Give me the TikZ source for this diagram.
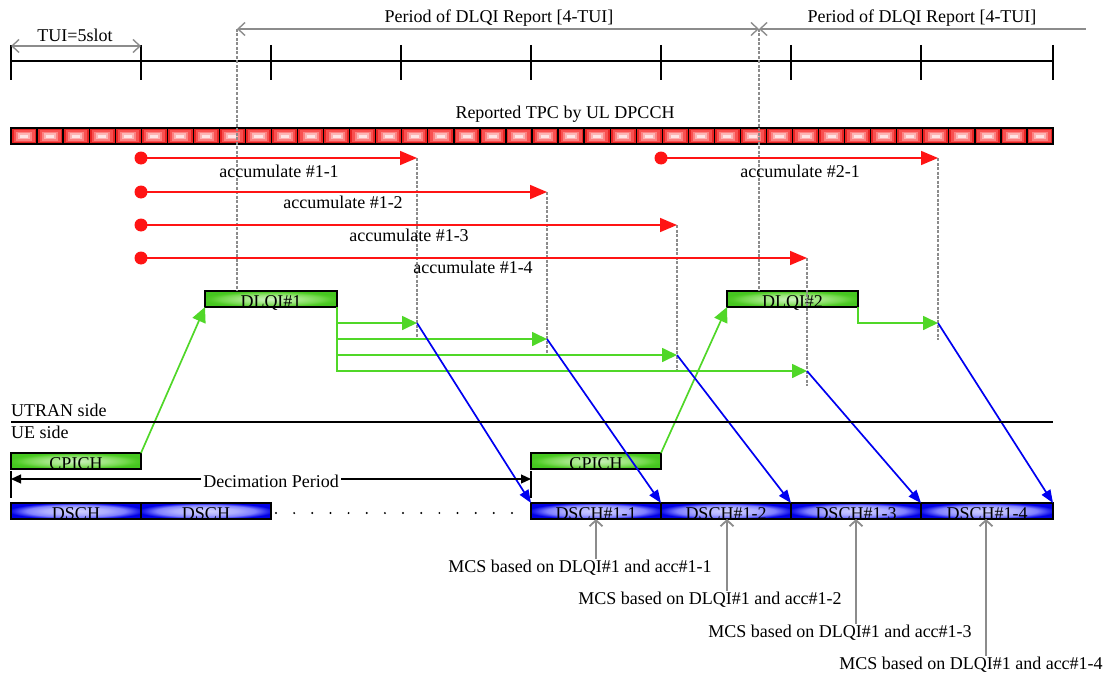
\documentclass[tikz,border=0pt]{standalone}
\usepackage{fontspec}
\setmainfont{Liberation Serif}
\usetikzlibrary{arrows.meta}
\definecolor{linegreen}{RGB}{80,215,40}
\definecolor{lineblue}{RGB}{0,0,240}
\definecolor{linered}{RGB}{255,20,20}
\definecolor{grayl}{RGB}{140,140,140}
\definecolor{tpcA}{RGB}{232,35,35}
\definecolor{tpcB}{RGB}{248,80,80}
\definecolor{tpcC}{RGB}{252,130,130}
\definecolor{tpcD}{RGB}{253,180,180}
\definecolor{tpcE}{RGB}{255,228,228}
\pgfdeclareradialshading{greenglow}{\pgfpoint{0bp}{0bp}}{rgb(0bp)=(0.8,0.95,0.75);rgb(12bp)=(0.62,0.9,0.5);rgb(19bp)=(0.45,0.85,0.3);rgb(23bp)=(0.32,0.8,0.16);rgb(26bp)=(0.27,0.78,0.12);rgb(50bp)=(0.27,0.78,0.12)}
\pgfdeclareradialshading{blueglow}{\pgfpoint{0bp}{0bp}}{rgb(0bp)=(0.82,0.82,1);rgb(12bp)=(0.68,0.68,1);rgb(19bp)=(0.5,0.5,1);rgb(23bp)=(0.2,0.2,0.95);rgb(26bp)=(0,0,0.9);rgb(50bp)=(0,0,0.9)}
\newcommand\myfs{\fontsize{18}{20}\selectfont}
\tikzset{
  sbox/.style={draw=black, line width=1.2pt, minimum height=16pt, inner sep=0pt, outer sep=0pt,
    anchor=north west, font=\myfs, text height=16pt, text depth=0pt},
  gbox/.style={sbox, shade, shading=greenglow},
  bbox/.style={sbox, shade, shading=blueglow},
  txt/.style={font=\myfs, inner sep=1pt, text height=12pt, text depth=4pt},
  gdash/.style={draw=grayl, line width=1.2pt, dash pattern=on 3pt off 1.5pt},
  grayline/.style={draw=grayl, line width=1.4pt},
  barb/.tip={Straight Barb[length=7pt,width=13pt]},
  rarrow/.style={draw=linered, line width=1.7pt, -{Triangle[length=17pt,width=14pt]}},
  garrow/.style={draw=linegreen, line width=1.7pt, -{Triangle[length=15pt,width=14pt]}},
  barrow/.style={draw=lineblue, line width=1.7pt, -{Triangle[length=13pt,width=10pt]}},
  mcsarrow/.style={draw=grayl, line width=1.8pt, -{Straight Barb[length=6pt,width=13pt]}},
  decarrow/.style={draw=black, line width=1.2pt, {Triangle[length=10pt,width=9pt]}-{Triangle[length=10pt,width=9pt]}},
}
\begin{document}
\begin{tikzpicture}[x=1pt,y=-1pt]
\useasboundingbox (0,0) rectangle (1109,677);

% ---- timeline
\draw[line width=1.2pt] (11,61) -- (1053,61);
\foreach \t in {11,141,271,401,531,661,791,921,1053}
  \draw[line width=1.6pt] (\t,45) -- (\t,80);

% ---- TPC bar
\foreach \i in {0,...,39}{
  \pgfmathsetmacro\xa{11+26.05*\i}
  \fill[tpcA] (\xa,128) rectangle ++(26.05,16);
  \fill[tpcB] (\xa+2.5,130) rectangle ++(21.05,12);
  \fill[tpcC] (\xa+5,131.5) rectangle ++(16.05,9);
  \fill[tpcD] (\xa+7,133) rectangle ++(12.05,6);
  \fill[tpcE] (\xa+9,134.5) rectangle ++(8.05,3);
  \draw[line width=1.3pt] (\xa,128) -- (\xa,144);
}
\draw[line width=1.3pt] (11,128) rectangle (1053,144);

% ---- boxes
\node[gbox, minimum width=132pt] (d1) at (205,291) {DLQI\#1};
\node[gbox, minimum width=131pt] (d2) at (727,291) {DLQI\#2};
\node[gbox, minimum width=130pt] (cp1) at (11,453) {CPICH};
\node[gbox, minimum width=130pt] (cp2) at (531,453) {CPICH};
\node[bbox, minimum width=130pt] (ds1) at (11,503) {DSCH};
\node[bbox, minimum width=130pt] (ds2) at (141,503) {DSCH};
\node[bbox, minimum width=130pt] (ds11) at (531,503) {DSCH\#1-1};
\node[bbox, minimum width=130pt] (ds12) at (661,503) {DSCH\#1-2};
\node[bbox, minimum width=130pt] (ds13) at (791,503) {DSCH\#1-3};
\node[bbox, minimum width=132pt] (ds14) at (921,503) {DSCH\#1-4};

% ---- coordinates
\coordinate (p0) at (237,29);
\coordinate (p1) at (759,29);
\coordinate (p2) at (1086,29);
\coordinate (t0) at (11,46);
\coordinate (t1) at (141,46);
\coordinate (a11s) at (141,158); \coordinate (a11e) at (417,158);
\coordinate (a12s) at (141,192); \coordinate (a12e) at (547,192);
\coordinate (a13s) at (141,225); \coordinate (a13e) at (677,225);
\coordinate (a14s) at (141,258); \coordinate (a14e) at (807,258);
\coordinate (a21s) at (661,158); \coordinate (a21e) at (938,158);
\coordinate (g11) at (417,323);
\coordinate (g12) at (547,339);
\coordinate (g13) at (677,355);
\coordinate (g14) at (807,371);
\coordinate (g21) at (938,323);
\coordinate (e11) at (417,340);
\coordinate (e12) at (547,356);
\coordinate (e13) at (677,372);
\coordinate (e14) at (807,386);
\coordinate (e21) at (938,340);
\coordinate (decL) at (11,479);
\coordinate (decR) at (531,479);

% ---- dashed guides
\draw[gdash] (p0) -- (p0 |- d1.north);
\draw[gdash] (p1) -- (p1 |- d2.north);
\draw[gdash] (a11e) -- (e11);
\draw[gdash] (a12e) -- (e12);
\draw[gdash] (a13e) -- (e13);
\draw[gdash] (a14e) -- (e14);
\draw[gdash] (a21e) -- (e21);

% ---- period / TUI arrows
\draw[grayline, barb-barb] (p0) -- (p1);
\draw[grayline, barb-] (p1) -- (p2);
\draw[grayline, barb-barb] (t0) -- (t1);

% ---- accumulate arrows
\foreach \a in {a11,a12,a13,a14,a21}{
  \fill[linered] (\a s) circle (6.5pt);
  \draw[rarrow] (\a s) -- (\a e);
}

% ---- green arrows
\draw[garrow] (cp1.north east) -- (d1.south west);
\draw[garrow] (cp2.north east) -- (d2.south west);
\draw[garrow] (d1.south east) |- (g11);
\draw[garrow] (d1.south east) |- (g12);
\draw[garrow] (d1.south east) |- (g13);
\draw[garrow] (d1.south east) |- (g14);
\draw[garrow] (d2.south east) |- (g21);

% ---- blue arrows
\draw[barrow] (g11) -- (ds11.north west);
\draw[barrow] (g12) -- (ds12.north west);
\draw[barrow] (g13) -- (ds13.north west);
\draw[barrow] (g14) -- (ds14.north west);
\draw[barrow] (g21) -- (ds14.north east);

% ---- side separator
\draw[line width=1.2pt] (11,422) -- (1053,422);

% ---- decimation period
\draw[line width=1.6pt] (11,471) -- (11,498);
\draw[line width=1.6pt] (531,471) -- (531,498);
\draw[decarrow] (decL) -- (decR);
\node[txt, fill=white, inner sep=2pt] (dec) at (271,483) {Decimation Period};

% ---- dots
\foreach \i in {0,...,13}
  \fill (276+18.15*\i,513) circle (1.1pt);

% ---- texts
\node[txt] (tui) at (75,38) {TUI=5slot};
\node[txt] (per1) at (499,19) {Period of DLQI Report [4-TUI]};
\node[txt] (per2) at (922,19) {Period of DLQI Report [4-TUI]};
\node[txt] (tpc) at (565,114) {Reported TPC by UL DPCCH};
\node[txt] (l11) at (279,173) {accumulate \#1-1};
\node[txt] (l12) at (343,204) {accumulate \#1-2};
\node[txt] (l13) at (409,237) {accumulate \#1-3};
\node[txt] (l14) at (473,269) {accumulate \#1-4};
\node[txt] (l21) at (800,173) {accumulate \#2-1};
\node[txt, anchor=west] (utran) at (10,412) {UTRAN side};
\node[txt, anchor=west] (ue) at (10,434) {UE side};

% ---- MCS labels
\node[txt] (m1) at (580,568) {MCS based on DLQI\#1 and acc\#1-1};
\node[txt] (m2) at (710,600) {MCS based on DLQI\#1 and acc\#1-2};
\node[txt] (m3) at (840,633) {MCS based on DLQI\#1 and acc\#1-3};
\node[txt] (m4) at (971,665) {MCS based on DLQI\#1 and acc\#1-4};
\draw[mcsarrow] ([xshift=16pt]m1.north) -- ([xshift=16pt]m1.north |- ds11.south);
\draw[mcsarrow] ([xshift=17pt]m2.north) -- ([xshift=17pt]m2.north |- ds12.south);
\draw[mcsarrow] ([xshift=16pt]m3.north) -- ([xshift=16pt]m3.north |- ds13.south);
\draw[mcsarrow] ([xshift=15pt]m4.north) -- ([xshift=15pt]m4.north |- ds14.south);
\end{tikzpicture}
\end{document}
